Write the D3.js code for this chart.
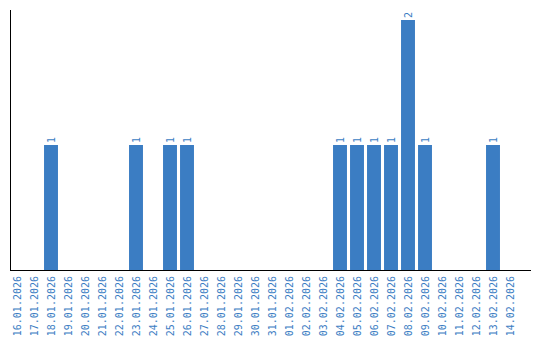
<!DOCTYPE html>
<html><head><meta charset="utf-8">
<script src="https://cdn.jsdelivr.net/npm/d3@7"></script>
<style>body{margin:0;background:#fff}</style>
</head><body><svg id="c" width="540" height="340"></svg>
<script>
const categories = ["16.01.2026","17.01.2026","18.01.2026","19.01.2026","20.01.2026","21.01.2026","22.01.2026","23.01.2026","24.01.2026","25.01.2026","26.01.2026","27.01.2026","28.01.2026","29.01.2026","30.01.2026","31.01.2026","01.02.2026","02.02.2026","03.02.2026","04.02.2026","05.02.2026","06.02.2026","07.02.2026","08.02.2026","09.02.2026","10.02.2026","11.02.2026","12.02.2026","13.02.2026","14.02.2026"];
const values = [0,0,1,0,0,0,0,1,0,1,1,0,0,0,0,0,0,0,0,1,1,1,1,2,1,0,0,0,1,0];
const color = "#3b7dc3";
const svg = d3.select("#c");
const x = d3.scaleBand().domain(categories).range([8.5, 518.5]).paddingInner(0.18).paddingOuter(0.09);
const y = d3.scaleLinear().domain([0, 2]).range([270, 20]);
const font = "DejaVu Sans Mono, monospace";
svg.append("g").selectAll("rect").data(categories).join("rect")
  .filter((d,i)=>values[i]>0)
  .attr("x", d=>x(d)).attr("width", x.bandwidth())
  .attr("y", d=>y(values[categories.indexOf(d)]))
  .attr("height", d=>270 - y(values[categories.indexOf(d)]))
  .attr("fill", color);
svg.append("g").selectAll("text").data(categories.filter((d,i)=>values[i]>0)).join("text")
  .attr("transform", d=>`translate(${x(d)+x.bandwidth()/2+3.5},${y(values[categories.indexOf(d)])-2}) rotate(-90)`)
  .attr("font-family", font).attr("font-size", 10).attr("fill", color)
  .text(d=>values[categories.indexOf(d)]);
// axes
svg.append("line").attr("x1",10.5).attr("x2",10.5).attr("y1",10).attr("y2",271).attr("stroke","#000").attr("stroke-width",1).attr("shape-rendering","crispEdges");
svg.append("line").attr("x1",10).attr("x2",531).attr("y1",270.5).attr("y2",270.5).attr("stroke","#000").attr("stroke-width",1).attr("shape-rendering","crispEdges");
const xa = svg.append("g").attr("transform","translate(0,270)")
  .call(d3.axisBottom(x).tickSize(0).tickPadding(0));
xa.select(".domain").remove();
xa.selectAll("text")
  .attr("font-family", font).attr("font-size", 10).attr("fill", color)
  .attr("text-anchor","end").attr("dy", null)
  .attr("transform","translate(3.5,6) rotate(-90)");
</script></body></html>
